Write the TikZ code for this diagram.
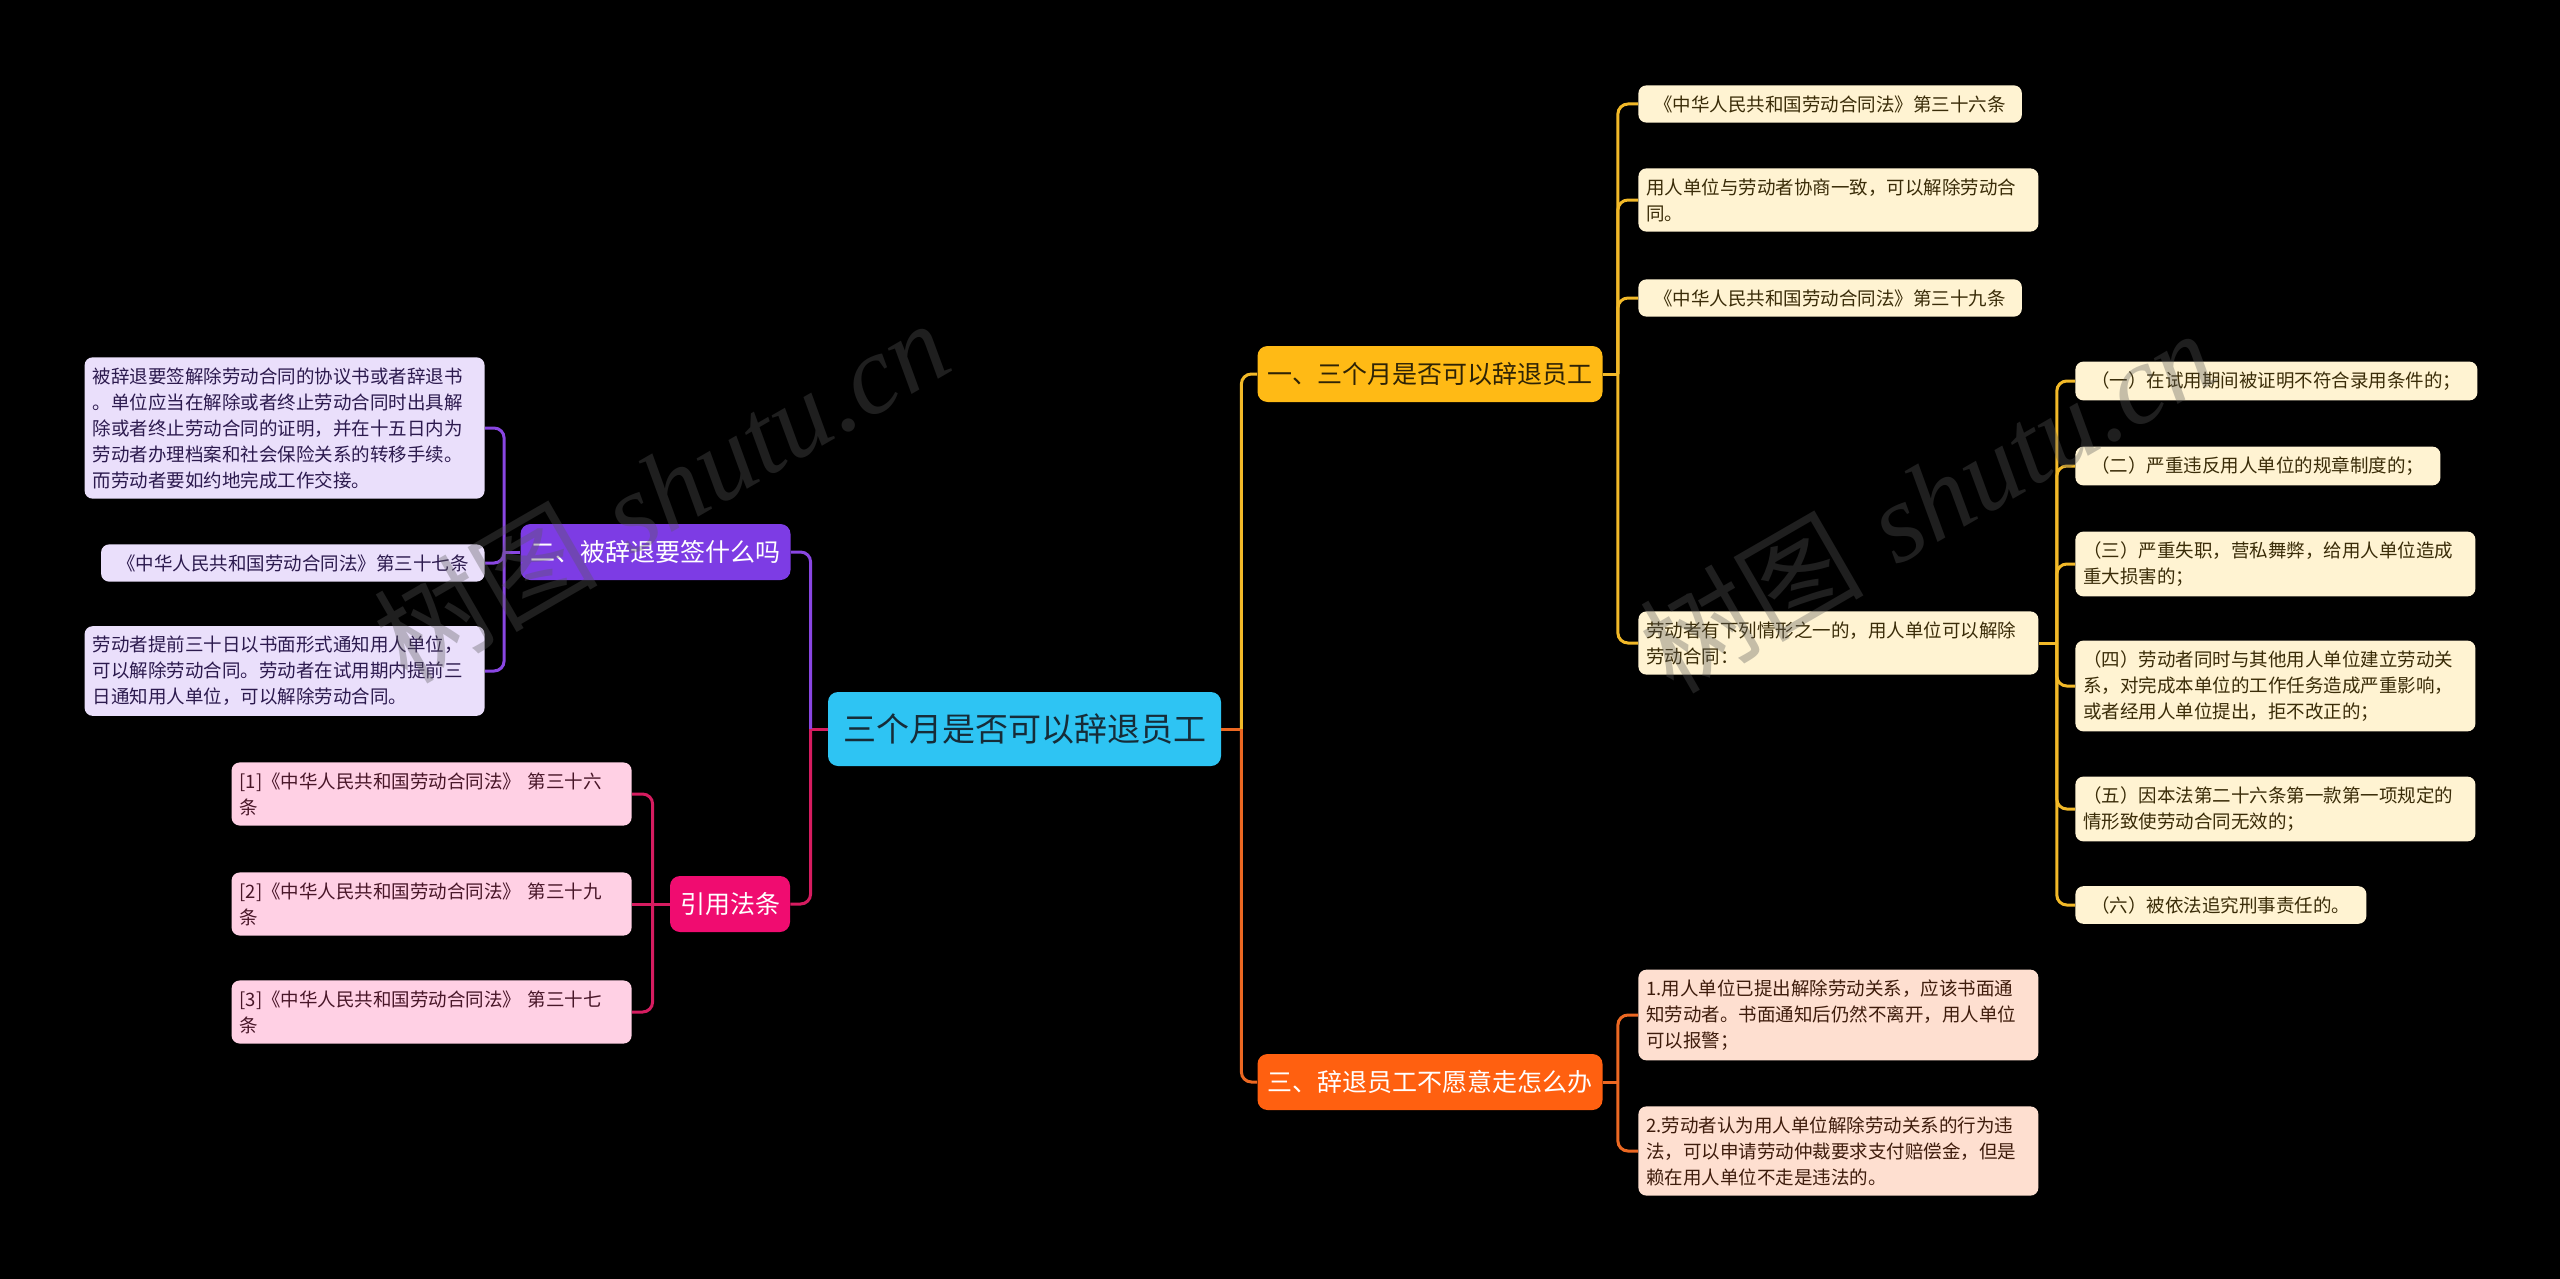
\documentclass[tikz,border=0pt]{standalone}
\usepackage{fontspec}
\newfontfamily\cjk{Noto Sans CJK SC}
\newfontfamily\wmf{Liberation Serif}
\definecolor{rootc}{RGB}{46,196,243}
\definecolor{rootx}{RGB}{22,44,56}
\definecolor{ylw}{RGB}{255,186,21}
\definecolor{ylwl}{RGB}{255,243,210}
\definecolor{ylwk}{RGB}{242,185,40}
\definecolor{ylwx}{RGB}{58,44,8}
\definecolor{prp}{RGB}{125,60,228}
\definecolor{prpl}{RGB}{234,223,251}
\definecolor{prpk}{RGB}{137,70,226}
\definecolor{prpx}{RGB}{44,26,78}
\definecolor{pnk}{RGB}{240,12,112}
\definecolor{pnkl}{RGB}{255,208,228}
\definecolor{pnkk}{RGB}{214,28,96}
\definecolor{pnkx}{RGB}{72,22,40}
\definecolor{org}{RGB}{255,96,16}
\definecolor{orgl}{RGB}{254,223,208}
\definecolor{orgk}{RGB}{236,104,34}
\definecolor{orgx}{RGB}{62,28,12}
\tikzset{
  root/.style={fill=rootc, text=rootx, rounded corners=5pt, font=\cjk\fontsize{16.5}{20}\selectfont,
               minimum width=196.5pt, minimum height=37pt},
  topic/.style={rounded corners=5pt, font=\cjk\fontsize{12.5}{15}\selectfont, minimum height=28pt, inner xsep=5pt},
  leaf/.style={rounded corners=4pt, font=\cjk\fontsize{9.25}{13}\selectfont, inner xsep=8pt, inner ysep=5pt, align=left},
  wide/.style={text width=192pt, inner xsep=4pt},
  yl/.style={leaf, fill=ylwl, text=ylwx},
  pl/.style={leaf, fill=prpl, text=prpx},
  kl/.style={leaf, fill=pnkl, text=pnkx},
  ol/.style={leaf, fill=orgl, text=orgx},
  lk/.style={line width=1.5pt, rounded corners=5pt},
  ylk/.style={lk, draw=ylwk},
  plk/.style={lk, draw=prpk},
  klk/.style={lk, draw=pnkk},
  olk/.style={lk, draw=orgk},
  wm/.style={rotate=30, text=black!65, text opacity=0.35, font=\fontsize{56}{60}\selectfont},
}

\begin{document}
\begin{tikzpicture}[x=0.5pt, y=-0.5pt]
  \fill[black] (0,0) rectangle (2560,1279);
  \useasboundingbox (0,0) rectangle (2560,1279);
  \node[root] (rt) at (1024.5,729) {三个月是否可以辞退员工};
  \node[topic, fill=ylw, text=ylwx!80!black] (t1) at (1430,374) {一、三个月是否可以辞退员工};
  \node[topic, fill=prp, text=white] (t2) at (655.5,552) {二、被辞退要签什么吗};
  \node[topic, fill=org, text=white] (t3) at (1430,1082) {三、辞退员工不愿意走怎么办};
  \node[topic, fill=pnk, text=white] (t4) at (730,904) {引用法条};

  \node[yl, anchor=west] (a1) at (1638,104) {《中华人民共和国劳动合同法》第三十六条};
  \node[yl, wide, anchor=west] (a2) at (1638,200) {用人单位与劳动者协商一致，可以解除劳动合\\同。};
  \node[yl, anchor=west] (a3) at (1638,298) {《中华人民共和国劳动合同法》第三十九条};
  \node[yl, wide, anchor=west] (a4) at (1638,643) {劳动者有下列情形之一的，用人单位可以解除\\劳动合同：};
  \node[yl, anchor=west] (d1) at (2075,381) {（一）在试用期间被证明不符合录用条件的；};
  \node[yl, anchor=west] (d2) at (2075,466) {（二）严重违反用人单位的规章制度的；};
  \node[yl, wide, anchor=west] (d3) at (2075,564) {（三）严重失职，营私舞弊，给用人单位造成\\重大损害的；};
  \node[yl, wide, anchor=west] (d4) at (2075,686) {（四）劳动者同时与其他用人单位建立劳动关\\系，对完成本单位的工作任务造成严重影响，\\或者经用人单位提出，拒不改正的；};
  \node[yl, wide, anchor=west] (d5) at (2075,809) {（五）因本法第二十六条第一款第一项规定的\\情形致使劳动合同无效的；};
  \node[yl, anchor=west] (d6) at (2075,905) {（六）被依法追究刑事责任的。};

  \node[ol, wide, anchor=west] (e1) at (1638,1015) {1.用人单位已提出解除劳动关系，应该书面通\\知劳动者。书面通知后仍然不离开，用人单位\\可以报警；};
  \node[ol, wide, anchor=west] (e2) at (1638,1151) {2.劳动者认为用人单位解除劳动关系的行为违\\法，可以申请劳动仲裁要求支付赔偿金，但是\\赖在用人单位不走是违法的。};

  \node[pl, wide, anchor=east] (p1) at (485,428) {被辞退要签解除劳动合同的协议书或者辞退书\\。单位应当在解除或者终止劳动合同时出具解\\除或者终止劳动合同的证明，并在十五日内为\\劳动者办理档案和社会保险关系的转移手续。\\而劳动者要如约地完成工作交接。};
  \node[pl, anchor=east] (p2) at (485,563) {《中华人民共和国劳动合同法》第三十七条};
  \node[pl, wide, anchor=east] (p3) at (485,671) {劳动者提前三十日以书面形式通知用人单位，\\可以解除劳动合同。劳动者在试用期内提前三\\日通知用人单位，可以解除劳动合同。};

  \node[kl, wide, anchor=east] (q1) at (632,794) {[1]《中华人民共和国劳动合同法》 第三十六\\条};
  \node[kl, wide, anchor=east] (q2) at (632,904) {[2]《中华人民共和国劳动合同法》 第三十九\\条};
  \node[kl, wide, anchor=east] (q3) at (632,1012) {[3]《中华人民共和国劳动合同法》 第三十七\\条};

  \draw[olk] (rt.east) -- ++(20,0) coordinate (jr);
  \draw[ylk] (jr) |- (t1.west);
  \draw[olk] (jr) |- (t3.west);
  \draw[klk] (rt.west) -- ++(-17,0) coordinate (jl);
  \draw[plk] (jl) |- (t2.east);
  \draw[klk] (jl) |- (t4.east);

  \draw[ylk] (t1.east) -- ++(15,0) coordinate (j1);
  \foreach \n in {a1,a2,a3,a4} \draw[ylk] (j1) |- (\n.west);
  \draw[ylk] (a4.east) -- ++(18,0) coordinate (j4);
  \foreach \n in {d1,d2,d3,d4,d5,d6} \draw[ylk] (j4) |- (\n.west);
  \draw[olk] (t3.east) -- ++(15,0) coordinate (j3);
  \foreach \n in {e1,e2} \draw[olk] (j3) |- (\n.west);
  \draw[plk] (t2.west) -- ++(-16,0) coordinate (j2);
  \foreach \n in {p1,p2,p3} \draw[plk] (j2) |- (\n.east);
  \draw[klk] (t4.west) -- ++(-17,0) coordinate (j5);
  \draw[klk] (j5) -- (q2.east);
  \foreach \n in {q1,q3} \draw[klk] (j5) |- (\n.east);

  \node[wm] (w1) at (661,490) {{\cjk 树图} {\wmf\itshape shutu.cn}};
  \node[wm] (w2) at (1927,500) {{\cjk 树图} {\wmf\itshape shutu.cn}};
\end{tikzpicture}
\end{document}
